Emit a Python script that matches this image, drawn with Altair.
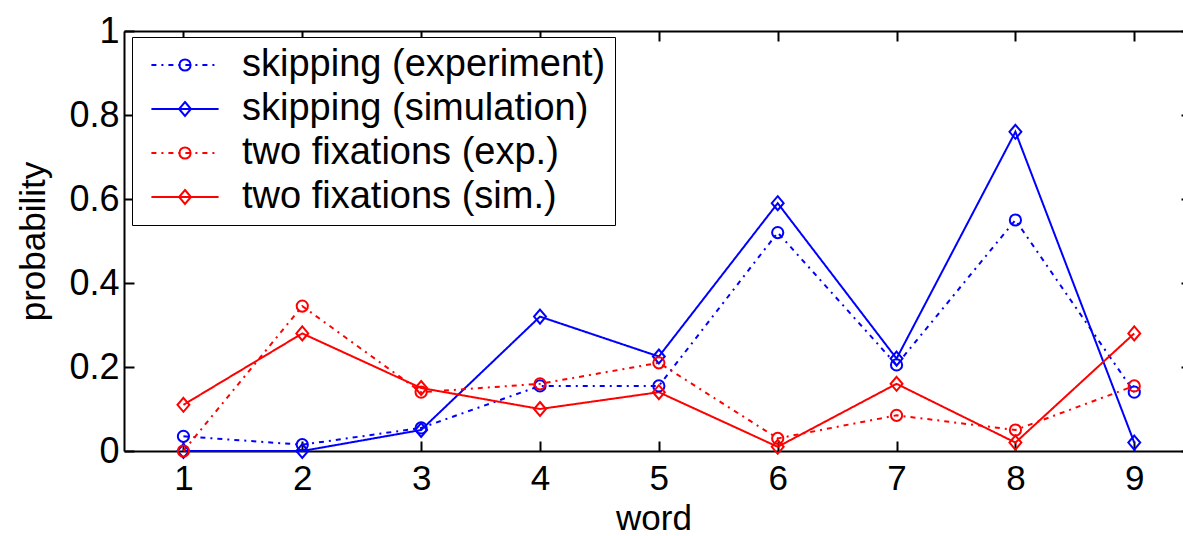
import altair as alt
import pandas as pd

# ---------------- data ----------------
words = [1, 2, 3, 4, 5, 6, 7, 8, 9]
skip_exp = [0.035, 0.015, 0.055, 0.155, 0.155, 0.52, 0.205, 0.55, 0.14]
skip_sim = [0.0, 0.0, 0.05, 0.32, 0.225, 0.59, 0.22, 0.76, 0.02]
fix_exp = [0.0, 0.345, 0.14, 0.16, 0.21, 0.03, 0.085, 0.05, 0.155]
fix_sim = [0.11, 0.28, 0.15, 0.10, 0.14, 0.01, 0.16, 0.02, 0.28]

series_names = [
    "skipping (experiment)",
    "skipping (simulation)",
    "two fixations (exp.)",
    "two fixations (sim.)",
]
series_values = [skip_exp, skip_sim, fix_exp, fix_sim]
series_colors = ["#0000ff", "#0000ff", "#ff0000", "#ff0000"]
x_ticks = words
y_ticks = [0, 0.2, 0.4, 0.6, 0.8, 1]

# ---------------- styles ----------------
FONT = "Liberation Sans"
DASH_EXP = [5, 5, 2, 5]
DASH_SIM = [1, 0]
series_dash = [DASH_EXP, DASH_SIM, DASH_EXP, DASH_SIM]
CIRCLE = "M0.8,0A0.8,0.8,0,1,1,-0.8,0A0.8,0.8,0,1,1,0.8,0Z"
DIAMOND = "M0,-1L0.85,0L0,1L-0.85,0Z"
LEG_LINE = "M-4.8,0L4.8,0"
series_shapes = [CIRCLE, DIAMOND, CIRCLE, DIAMOND]

rows = []
for name, vals in zip(series_names, series_values):
    for w, v in zip(words, vals):
        rows.append({"word": w, "probability": v, "series": name})
df = pd.DataFrame(rows)

xscale = alt.Scale(domain=[0.5, 9.41], nice=False, zero=False)
yscale = alt.Scale(domain=[0, 1], nice=False, zero=False)
color_scale = alt.Scale(domain=series_names, range=series_colors)
dash_scale = alt.Scale(domain=series_names, range=series_dash)
shape_scale = alt.Scale(domain=series_names, range=series_shapes)

TXT = dict(labelFont=FONT, labelColor="black",
           titleFont=FONT, titleColor="black",
           titleFontWeight="normal", grid=False)

# main axes: labels, titles, domain lines
x_main = alt.X("word:Q", scale=xscale, axis=alt.Axis(
    orient="bottom", values=x_ticks, title="word", ticks=False, tickSize=0,
    domain=True, domainColor="black", domainWidth=2, labelPadding=10,
    labelFontSize=35, titleFontSize=35,
    titlePadding=5, labelFlush=False, labelOverlap=False, **TXT))
y_main = alt.Y("probability:Q", scale=yscale, axis=alt.Axis(
    orient="left", values=y_ticks, format="~g", title="probability",
    ticks=False, tickSize=0, domain=True, domainColor="black", domainWidth=2,
    labelFontSize=36, titleFontSize=35,
    labelPadding=5, titlePadding=17, labelFlush=False, labelOverlap=False, **TXT))

TICKS = dict(labels=False, domain=False, grid=False, ticks=True,
             tickColor="black", tickWidth=2, title=None)

x_tick_b = alt.X("word:Q", scale=xscale, axis=alt.Axis(
    orient="bottom", values=x_ticks, tickSize=10, offset=-10, **TICKS))
y_tick_l = alt.Y("probability:Q", scale=yscale, axis=alt.Axis(
    orient="left", values=y_ticks, tickSize=10, offset=-10, **TICKS))
x_tick_t = alt.X("word:Q", scale=xscale, axis=alt.Axis(
    orient="top", values=x_ticks, tickSize=10, offset=-10, **TICKS))
y_tick_r = alt.Y("probability:Q", scale=yscale, axis=alt.Axis(
    orient="right", values=y_ticks, tickSize=2, offset=-2, **TICKS))
x_top_dom = alt.X("word:Q", scale=xscale, axis=alt.Axis(
    orient="top", values=x_ticks, labels=False, ticks=False, grid=False,
    domain=True, domainColor="black", domainWidth=2, title=None))

LEG_COMMON = dict(title=None, orient="none", legendX=8, legendY=6,
                  direction="vertical", padding=9, rowPadding=6,
                  labelFont=FONT, labelFontSize=38, labelLimit=0,
                  symbolSize=196, symbolStrokeWidth=2,
                  symbolOffset=25, labelOffset=38)

leg_lines = alt.Legend(strokeColor="black", fillColor="white",
                       symbolType=LEG_LINE, labelColor="black", **LEG_COMMON)
leg_marks = alt.Legend(labelExpr="' '", labelColor="black", **LEG_COMMON)

base = alt.Chart(df)

lines = base.mark_line(strokeWidth=2).encode(
    x=x_main, y=y_main,
    color=alt.Color("series:N", scale=color_scale, legend=leg_lines),
    strokeDash=alt.StrokeDash("series:N", scale=dash_scale, legend=leg_lines),
)

points = base.mark_point(filled=False, strokeWidth=2, size=196, opacity=1).encode(
    x=x_tick_b, y=y_tick_l,
    color=alt.Color("series:N", scale=color_scale, legend=leg_marks),
    shape=alt.Shape("series:N", scale=shape_scale, legend=leg_marks),
)

ghost1 = base.mark_point(opacity=0).encode(x=x_tick_t, y=y_tick_r)
ghost2 = base.mark_point(opacity=0).encode(
    x=x_top_dom, y=alt.Y("probability:Q", scale=yscale, axis=None))

chart = alt.layer(lines, points, ghost1, ghost2).resolve_axis(
    x="independent", y="independent"
).resolve_legend(
    color="independent", strokeDash="independent", shape="independent"
).properties(
    width=1059, height=420,
    autosize=alt.AutoSizeParams(type="none"),
    padding={"left": 124, "top": 31, "right": 0, "bottom": 85},
    background="white",
).configure_view(stroke=None)

chart.save("out.html", embed_options={"renderer": "svg", "actions": False})
